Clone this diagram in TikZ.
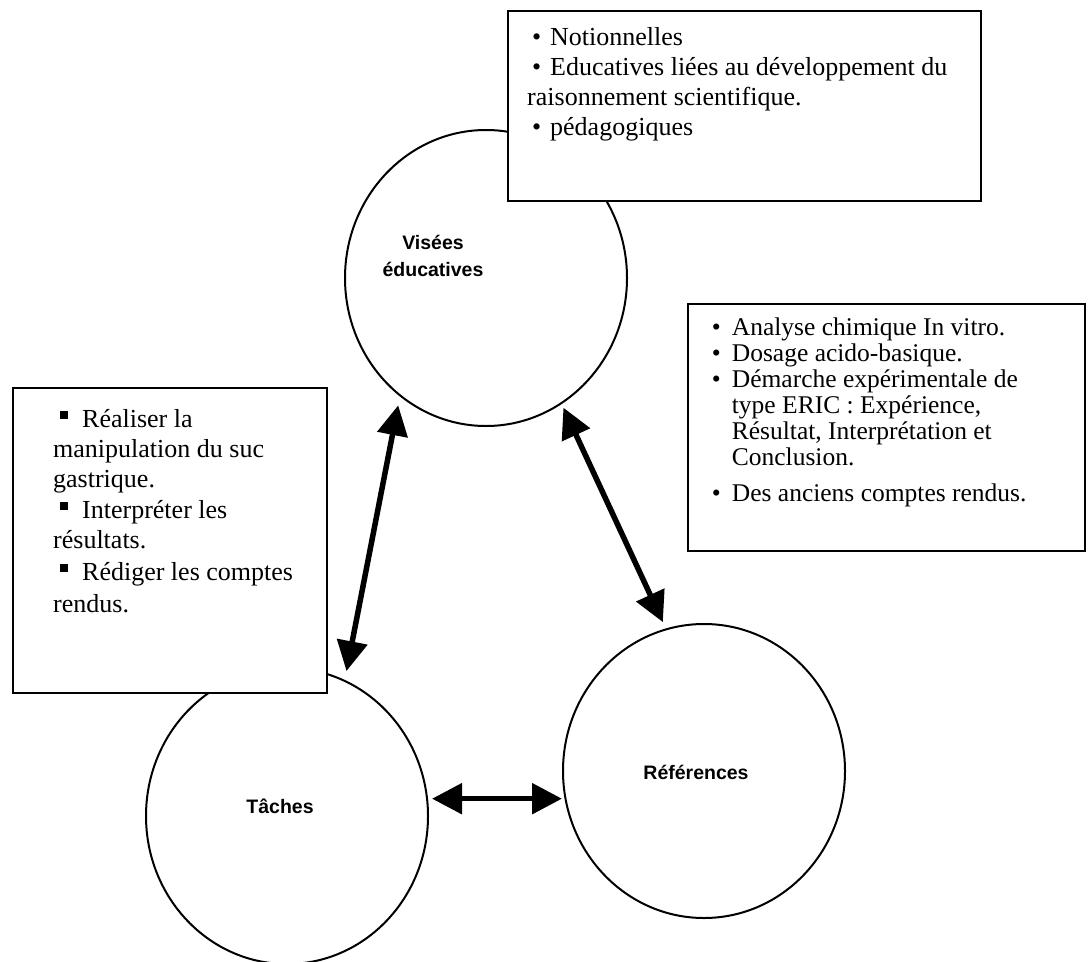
\documentclass[tikz,border=0pt]{standalone}
\usepackage{fontspec}
\setmainfont{Liberation Serif}
\newfontfamily\labfont{Liberation Sans}
\usetikzlibrary{shapes.geometric,arrows.meta}
\newcommand{\sqbul}{\rule[8.5pt]{7.5pt}{7.5pt}}
\newcommand{\bul}[1]{\makebox[#1][l]{•}}
\tikzset{
  ring/.style={ellipse, draw, line width=2pt, inner sep=0pt, minimum width=282pt, minimum height=296pt},
  box/.style={rectangle, draw, fill=white, line width=2.4pt, inner sep=0pt, anchor=north west},
  txt/.style={anchor=base west, inner sep=0pt},
  lab/.style={inner sep=0pt, align=center, font=\labfont\bfseries\fontsize{19.5}{27}\selectfont},
  dbl/.style={line width=5.5pt, {Triangle[length=30pt,width=30pt]}-{Triangle[length=30pt,width=30pt]}}
}
\begin{document}
\begin{tikzpicture}[x=1pt,y=-1pt]
\useasboundingbox (0,0) rectangle (1089,961);
% circles
\node[ring] (vis) at (486,278) {};
\node[ring] (tac) at (287,816) {};
\node[ring, minimum height=294pt] (ref) at (704,771) {};
% boxes
\node[box, minimum width=473pt, minimum height=190pt] (tbox) at (507,10) {};
\node[box, minimum width=397pt, minimum height=247pt] (rbox) at (687,303) {};
\node[box, minimum width=314pt, minimum height=305pt] (lbox) at (12,387) {};
% box texts
\node[txt] (ttext) at (527,45) {\parbox[t]{460pt}{\fontsize{26}{30}\selectfont
\hspace*{5pt}\bul{18pt}Notionnelles\\
\hspace*{5pt}\bul{18pt}Educatives liées au développement du\\
raisonnement scientifique.\\
\hspace*{5pt}\bul{18pt}pédagogiques}};
\node[txt] (rtext) at (711.7,335) {\parbox[t]{370pt}{\fontsize{25.5}{26}\selectfont
\bul{20pt}Analyse chimique In vitro.\\
\bul{20pt}Dosage acido-basique.\\
\bul{20pt}Démarche expérimentale de\\
\hspace*{20pt}type ERIC : Expérience,\\
\hspace*{20pt}Résultat, Interprétation et\\
\hspace*{20pt}Conclusion.\\[10pt]
\bul{20pt}Des anciens comptes rendus.}};
\node[txt] (ltext) at (53,427) {\parbox[t]{270pt}{\fontsize{26}{30}\selectfont
\hspace*{7pt}\makebox[22pt][l]{\sqbul}Réaliser la\\
manipulation du suc\\
gastrique.\\[1pt]
\hspace*{7pt}\makebox[22pt][l]{\sqbul}Interpréter les\\
résultats.\\[2pt]
\hspace*{7pt}\makebox[22pt][l]{\sqbul}Rédiger les comptes\\[2pt]
rendus.}};
% labels
\node[lab] (vlab) at (433,256) {Visées\\éducatives};
\node[lab] (tlab) at (280,806) {Tâches};
\node[lab] (rlab) at (696,772) {Références};
% arrows
\draw[dbl, shorten <=9pt, shorten >=9pt] (vis.234.5) -- (tac.67.4);
\draw[dbl, shorten <=4pt, shorten >=7pt] (vis.301.9) -- (ref.105.8);
\draw[dbl, shorten <=4pt] (tac.7.9) -- (tac.7.9 -| ref.west);
\end{tikzpicture}
\end{document}
